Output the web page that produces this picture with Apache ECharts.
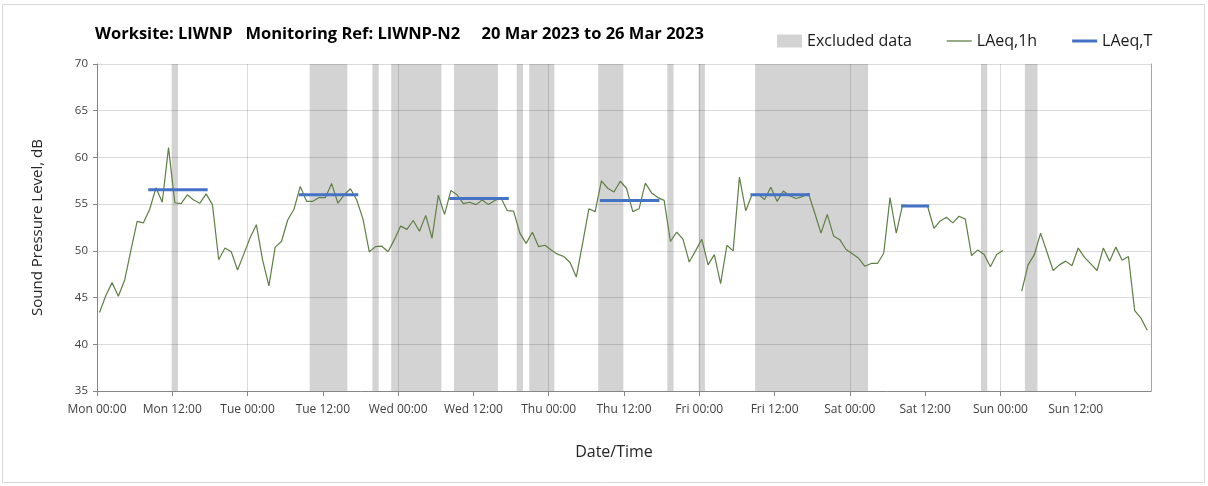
<!DOCTYPE html>
<html><head><meta charset="utf-8">
<script src="https://cdn.jsdelivr.net/npm/echarts@6/dist/echarts.min.js"></script>
<style>html,body{margin:0;padding:0;background:#fff}#c{width:1208px;height:486px}</style>
</head><body><div id="c"></div>
<script>
// ---- data ----
const dayNames = ['Mon', 'Tue', 'Wed', 'Thu', 'Fri', 'Sat', 'Sun'];
const timeNames = ['00:00', '12:00'];
const pointOffset = 0.4; // position of each hourly value inside its hour
const laeq1h = [
  43.4, 45.2, 46.6, 45.15, 46.85, 50.05, 53.15, 53.0, 54.45, 56.75, 55.2, 61.05,
  55.15, 55.05, 56.0, 55.45, 55.1, 56.1, 54.95, 49.05, 50.3, 49.9, 47.95, 49.65,
  51.4, 52.8, 49.0, 46.25, 50.4, 51.0, 53.3, 54.45, 56.9, 55.3, 55.3, 55.7,
  55.7, 57.2, 55.1, 56.0, 56.65, 55.45, 53.4, 49.9, 50.45, 50.5, 49.9, 51.2,
  52.65, 52.3, 53.25, 52.1, 53.8, 51.35, 55.95, 53.9, 56.45, 56.0, 55.05, 55.2,
  54.95, 55.45, 54.95, 55.4, 55.65, 54.3, 54.25, 51.9, 50.8, 52.0, 50.45, 50.6,
  50.1, 49.65, 49.4, 48.75, 47.2, 50.8, 54.5, 54.2, 57.5, 56.7, 56.3, 57.45,
  56.7, 54.2, 54.5, 57.25, 56.2, 55.7, 55.4, 51.0, 52.0, 51.25, 48.8, 50.0,
  51.25, 48.5, 49.6, 46.5, 50.6, 50.0, 57.9, 54.3, 56.0, 56.05, 55.5, 56.8,
  55.3, 56.4, 55.9, 55.6, 55.8, 56.15, 54.05, 51.9, 53.9, 51.6, 51.2, 50.15,
  49.7, 49.2, 48.35, 48.65, 48.65, 49.75, 55.7, 51.9, 54.9, 54.85, 54.8, 54.8,
  54.75, 52.4, 53.2, 53.6, 53.0, 53.7, 53.4, 49.5, 50.1, 49.6, 48.3, 49.6,
  50.05, null, null, 45.7, 48.5, 49.6, 51.9, 49.9, 47.9, 48.5, 48.9, 48.4,
  50.3, 49.3, 48.6, 47.9, 50.3, 48.9, 50.4, 49.0, 49.4, 43.6, 42.8, 41.5
];
const excludedHours = [[12, 12], [34, 39], [44, 44], [47, 54], [57, 63], [67, 67], [69, 72],
  [80, 83], [91, 91], [96, 96], [105, 122], [141, 141], [148, 149]];
const laeqTPeriods = [[8, 17], [32, 41], [56, 65], [80, 89], [104, 113], [128, 132]];
const laeqTValues = [56.55, 56.0, 55.6, 55.4, 56.0, 54.8];

// ---- build ----
const FONT = 'Open Sans';
const yMin = 35, yMax = 70;
const lineData = laeq1h.map((v, i) => [i + pointOffset, v]);
const areaData = excludedHours.map(([a, b]) => [
  { xAxis: a + pointOffset - 0.5, yAxis: yMin },
  { xAxis: b + pointOffset + 0.5, yAxis: yMax }
]);
const tData = [];
laeqTPeriods.forEach(([a, b], k) => {
  for (let h = a; h <= b; h++) tData.push([h + pointOffset, laeqTValues[k]]);
  tData.push([b + pointOffset + 0.5, null]);
});

const chart = echarts.init(document.getElementById('c'), null, { renderer: 'canvas' });
chart.setOption({
  animation: false,
  backgroundColor: '#fff',
  textStyle: { fontFamily: FONT },
  title: {
    text: 'Worksite: LIWNP   Monitoring Ref: LIWNP-N2     20 Mar 2023 to 26 Mar 2023',
    left: 95, top: 26, padding: 0,
    textStyle: { fontFamily: FONT, fontSize: 16.5, fontWeight: 'bold', color: '#000' }
  },
  legend: {
    left: 777, top: 33, padding: 0,
    itemWidth: 25, itemHeight: 13, itemGap: 35,
    textStyle: { fontFamily: FONT, fontSize: 16, color: '#1a1a1a', padding: [0, 0, 0, 0] },
    data: [
      { name: 'Excluded data', icon: 'rect', itemStyle: { color: '#d3d3d3', borderWidth: 0 } },
      { name: 'LAeq,1h', icon: 'path://M0,0H25V1.3H0Z', itemStyle: { color: '#5f7f45', borderWidth: 0 } },
      { name: 'LAeq,T', icon: 'path://M0,0H25V3H0Z', itemStyle: { color: '#4472c4', borderWidth: 0 } }
    ]
  },
  graphic: [{
    type: 'rect', silent: true, z: -10,
    shape: { x: 2.5, y: 4.5, width: 1202, height: 478 },
    style: { fill: 'none', stroke: '#d9d9d9', lineWidth: 1 }
  }],
  grid: { left: 97, right: 57, top: 64, bottom: 95 },
  xAxis: [{
    type: 'value', min: 0, max: 168, interval: 12, z: 2,
    axisLine: { show: true, onZero: false, lineStyle: { color: '#868686', width: 1 } },
    axisTick: { show: true, length: 5, lineStyle: { color: '#868686' } },
    axisLabel: {
      fontFamily: FONT, fontSize: 12, color: '#404040', margin: 13, showMaxLabel: false,
      formatter: v => dayNames[Math.floor(v / 24)] + ' ' + timeNames[(v % 24) / 12]
    },
    splitLine: { show: false },
    name: 'Date/Time', nameLocation: 'middle', nameGap: 53,
    nameTextStyle: { fontFamily: FONT, fontSize: 16, color: '#262626', padding: [0, 20, 0, 0] }
  }, {
    type: 'value', min: 0, max: 168, interval: 24, position: 'bottom', z: 2,
    axisLine: { show: false }, axisTick: { show: false }, axisLabel: { show: false },
    splitLine: { show: true, lineStyle: { color: 'rgba(0,0,0,0.14)', width: 1 } }
  }],
  yAxis: [{
    type: 'value', min: yMin, max: yMax, interval: 5, z: 2,
    axisLine: { show: true, onZero: false, lineStyle: { color: '#868686', width: 1 } },
    axisTick: { show: true, length: 4, lineStyle: { color: '#868686' } },
    axisLabel: { fontFamily: FONT, fontSize: 11.5, color: '#404040', margin: 9 },
    splitLine: { show: true, lineStyle: { color: 'rgba(0,0,0,0.14)', width: 1 } },
    name: 'Sound Pressure Level, dB', nameLocation: 'middle', nameGap: 52,
    nameTextStyle: { fontFamily: FONT, fontSize: 15, color: '#262626' }
  }, {
    type: 'value', min: yMin, max: yMax, interval: 5, position: 'right', z: 2,
    axisLine: { show: true, onZero: false, lineStyle: { color: '#a6a6a6', width: 1 } },
    axisTick: { show: false }, axisLabel: { show: false }, splitLine: { show: false }
  }],
  series: [{
    name: 'Excluded data', type: 'line', data: [], symbol: 'none', silent: true,
    itemStyle: { color: '#d3d3d3' },
    markArea: { silent: true, z: 1, itemStyle: { color: '#d3d3d3', borderWidth: 0 }, data: areaData }
  }, {
    name: 'LAeq,1h', type: 'line', data: lineData, symbol: 'none', showSymbol: false,
    connectNulls: false, z: 3, silent: true,
    itemStyle: { color: '#5f7f45' },
    lineStyle: { color: '#5f7f45', width: 1.2 }
  }, {
    name: 'LAeq,T', type: 'line', data: tData, symbol: 'none', showSymbol: false,
    connectNulls: false, z: 4, silent: true,
    itemStyle: { color: '#4472c4' },
    lineStyle: { color: '#4472c4', width: 3, cap: 'square' }
  }]
});
</script>
</body></html>
